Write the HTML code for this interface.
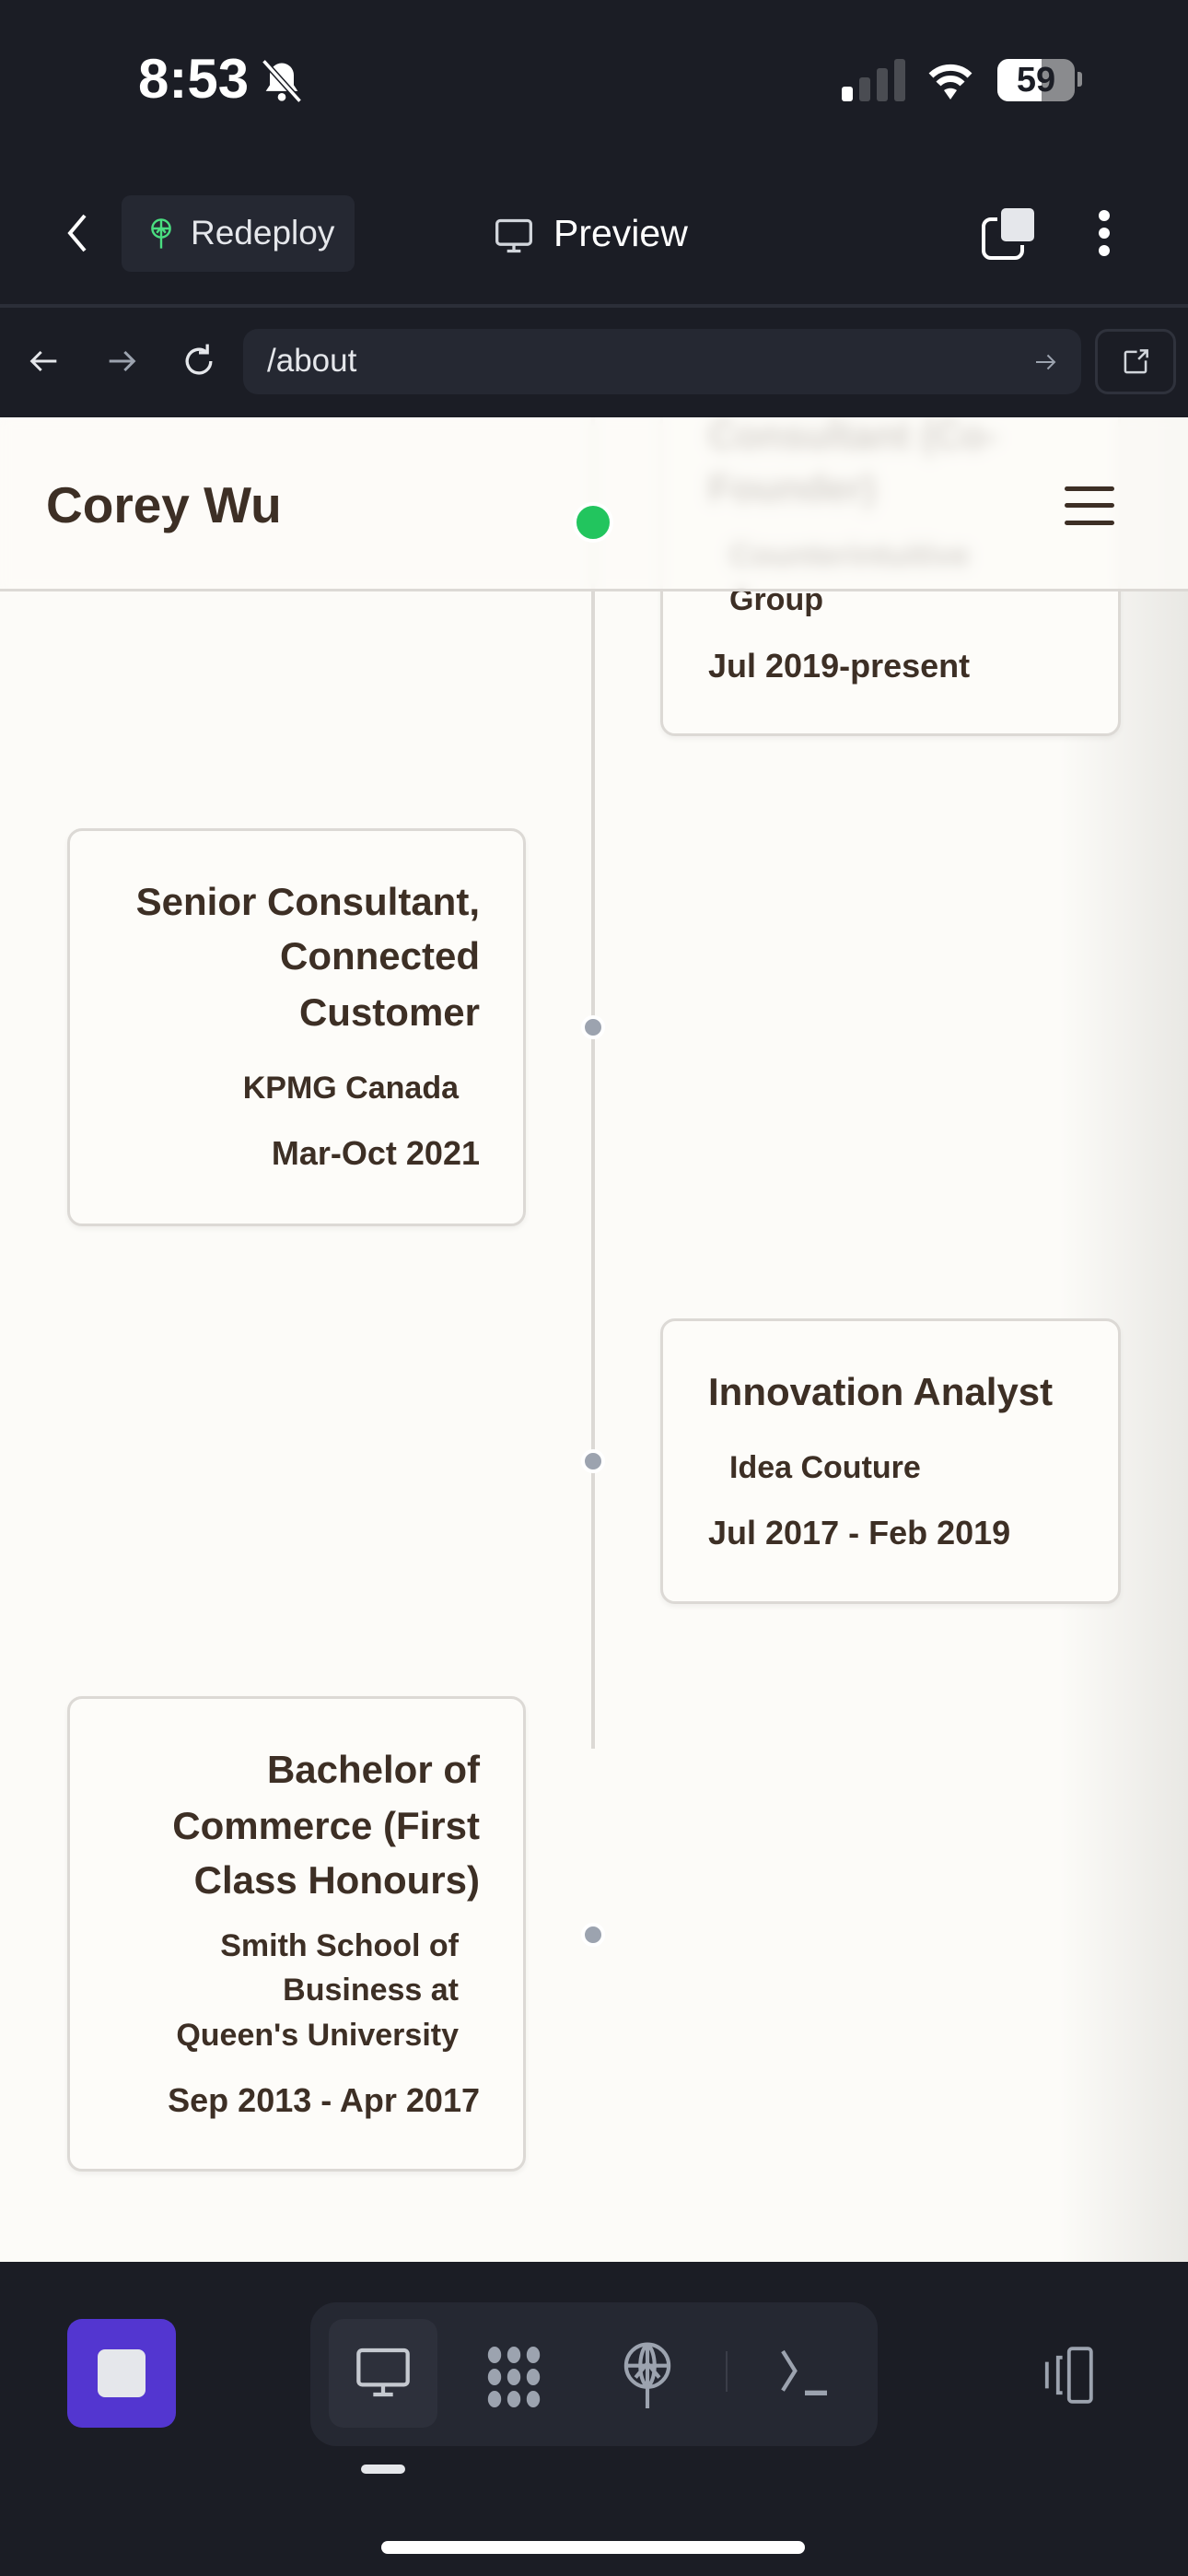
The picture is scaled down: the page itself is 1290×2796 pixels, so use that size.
<!DOCTYPE html>
<html><head><meta charset="utf-8"><style>
*{margin:0;padding:0;box-sizing:border-box}
body{width:1290px;height:2796px;background:#1b1d25;font-family:"Liberation Sans",sans-serif;position:relative;overflow:hidden}
.a{position:absolute}
.t{position:absolute;white-space:nowrap;color:#3d2f25;line-height:60px}
.card{position:absolute;background:#fdfcf9;border:3px solid #dcd9d5;border-radius:16px;box-shadow:0 3px 6px rgba(0,0,0,0.05)}
.dot{position:absolute;width:26px;height:26px;border-radius:50%;background:#9ca3af;border:4px solid #fff;left:631px}
.ti{font-size:42px;font-weight:bold}
.sub{font-size:34px;font-weight:bold}
.dt{font-size:36px;font-weight:bold}
</style></head><body>
<!-- status bar -->
<div class="a" style="left:150px;top:52px;color:#fff;font-size:60px;font-weight:bold;line-height:68px">8:53</div>
<svg class="a" style="left:280px;top:62px" width="52" height="52" viewBox="0 0 24 24"><path d="M12 3a6 6 0 0 0-6 6v5l-2 3h16l-2-3V9a6 6 0 0 0-6-6z" fill="#fff"/><circle cx="12" cy="20" r="2" fill="#fff"/><line x1="3" y1="2" x2="21" y2="22" stroke="#1b1d25" stroke-width="3"/><line x1="3" y1="2" x2="21" y2="22" stroke="#fff" stroke-width="1.6"/></svg>
<div class="a" style="left:914px;top:94px;width:12px;height:16px;background:#fff;border-radius:3px"></div>
<div class="a" style="left:933px;top:84px;width:12px;height:26px;background:#4a4c52;border-radius:3px"></div>
<div class="a" style="left:952px;top:74px;width:12px;height:36px;background:#4a4c52;border-radius:3px"></div>
<div class="a" style="left:971px;top:64px;width:12px;height:46px;background:#4a4c52;border-radius:3px"></div>
<svg class="a" style="left:1003px;top:62px" width="58" height="48" viewBox="0 0 58 48"><path d="M29 46 L36 36 A12 12 0 0 0 22 36Z" fill="#fff"/><path d="M8 20 A30 30 0 0 1 50 20" stroke="#fff" stroke-width="7" fill="none"/><path d="M16 29 A18 18 0 0 1 42 29" stroke="#fff" stroke-width="7" fill="none"/></svg>
<div class="a" style="left:1083px;top:64px;width:84px;height:46px;border-radius:12px;background:#8a8b8e;overflow:hidden"><div style="width:48px;height:46px;background:#fff"></div></div>
<div class="a" style="left:1083px;top:64px;width:84px;height:46px;text-align:center;font-size:38px;font-weight:bold;color:#1b1d25;line-height:46px">59</div>
<div class="a" style="left:1170px;top:78px;width:5px;height:16px;background:#8a8b8e;border-radius:0 3px 3px 0"></div>
<!-- nav -->
<svg class="a" style="left:70px;top:230px" width="28" height="46" viewBox="0 0 28 46"><path d="M22 4 L6 23 L22 42" stroke="#fff" stroke-width="4" fill="none"/></svg>
<div class="a" style="left:132px;top:212px;width:253px;height:83px;background:#252832;border-radius:10px"></div>
<svg class="a" style="left:160px;top:236px" width="30" height="36" viewBox="0 0 24 30"><circle cx="12" cy="10" r="8" stroke="#4ade80" stroke-width="2" fill="none"/><path d="M4 10h16M12 2v26M8 14l4-5 4 5" stroke="#4ade80" stroke-width="2" fill="none"/></svg>
<div class="a" style="left:207px;top:228px;color:#e5e7eb;font-size:37px;line-height:50px">Redeploy</div>
<svg class="a" style="left:536px;top:234px" width="44" height="44" viewBox="0 0 24 24"><rect x="2" y="3" width="20" height="14" rx="2" stroke="#d1d5db" stroke-width="1.8" fill="none"/><path d="M12 17v4M8 21h8" stroke="#d1d5db" stroke-width="1.8"/></svg>
<div class="a" style="left:601px;top:226px;color:#fff;font-size:41px;line-height:54px">Preview</div>
<div class="a" style="left:1066px;top:236px;width:46px;height:46px;border:4px solid #fff;border-radius:10px"></div>
<div class="a" style="left:1083px;top:222px;width:44px;height:44px;background:#e5e7eb;border-radius:9px;border:4px solid #1b1d25"></div>
<div class="a" style="left:1193px;top:228px;width:12px;height:12px;background:#fff;border-radius:50%"></div>
<div class="a" style="left:1193px;top:247px;width:12px;height:12px;background:#fff;border-radius:50%"></div>
<div class="a" style="left:1193px;top:266px;width:12px;height:12px;background:#fff;border-radius:50%"></div>
<div class="a" style="left:0;top:330px;width:1290px;height:4px;background:#2b2e38"></div>
<!-- url bar -->
<svg class="a" style="left:28px;top:372px" width="40" height="40" viewBox="0 0 24 24"><path d="M20 12H4M10 6l-6 6 6 6" stroke="#e5e7eb" stroke-width="1.8" fill="none"/></svg>
<svg class="a" style="left:112px;top:372px" width="40" height="40" viewBox="0 0 24 24"><path d="M4 12h16M14 6l6 6-6 6" stroke="#9ca3af" stroke-width="1.8" fill="none"/></svg>
<svg class="a" style="left:194px;top:370px" width="44" height="44" viewBox="0 0 24 24"><path d="M19 12a7 7 0 1 1-3-5.7" stroke="#e5e7eb" stroke-width="1.8" fill="none"/><path d="M17 2v5h-5" stroke="#e5e7eb" stroke-width="1.8" fill="none"/></svg>
<div class="a" style="left:264px;top:357px;width:910px;height:71px;background:#252832;border-radius:16px"></div>
<div class="a" style="left:290px;top:366px;color:#e5e7eb;font-size:35px;line-height:52px">/about</div>
<svg class="a" style="left:1120px;top:378px" width="30" height="30" viewBox="0 0 24 24"><path d="M4 12h16M14 6l6 6-6 6" stroke="#9ca3af" stroke-width="1.6" fill="none"/></svg>
<div class="a" style="left:1189px;top:357px;width:88px;height:71px;border:3px solid #2f323c;border-radius:14px"></div>
<svg class="a" style="left:1214px;top:374px" width="38" height="38" viewBox="0 0 24 24"><path d="M13 5H6a1 1 0 0 0-1 1v12a1 1 0 0 0 1 1h12a1 1 0 0 0 1-1v-7M14 10l6-6M15 4h5v5" stroke="#d1d5db" stroke-width="1.6" fill="none"/></svg>
<!-- content -->
<div class="a" style="left:0;top:453px;width:1290px;height:2002px;background:#fcfbf8;overflow:hidden">
 <div class="a" style="left:1150px;top:0;width:140px;height:2002px;background:linear-gradient(90deg,rgba(233,232,228,0),#e9e8e4)"></div>
 <div class="a" style="left:642px;top:0;width:4px;height:1445px;background:#dcd9d5"></div>
 <!-- card 1 right -->
 <div class="card" style="left:717px;top:-200px;width:500px;height:546px"></div>
 <div class="t ti" style="left:769px;top:-10px;filter:blur(5px)">Consultant (Co-</div>
 <div class="t ti" style="left:769px;top:47px;filter:blur(5px)">Founder)</div>
 <div class="t sub" style="left:792px;top:120px;filter:blur(5px)">Counterintuitive</div>
 <div class="t sub" style="left:792px;top:168px">Group</div>
 <div class="t dt" style="left:769px;top:240px">Jul 2019-present</div>
 <!-- card 2 left -->
 <div class="card" style="left:73px;top:446px;width:498px;height:432px"></div>
 <div class="t ti" style="right:769px;top:496px">Senior Consultant,</div>
 <div class="t ti" style="right:769px;top:555px">Connected</div>
 <div class="t ti" style="right:769px;top:616px">Customer</div>
 <div class="t sub" style="right:792px;top:698px">KPMG Canada</div>
 <div class="t dt" style="right:769px;top:769px">Mar-Oct 2021</div>
 <div class="dot" style="top:649px"></div>
 <!-- card 3 right -->
 <div class="card" style="left:717px;top:978px;width:500px;height:310px"></div>
 <div class="t ti" style="left:769px;top:1028px">Innovation Analyst</div>
 <div class="t sub" style="left:792px;top:1110px">Idea Couture</div>
 <div class="t dt" style="left:769px;top:1181px">Jul 2017 - Feb 2019</div>
 <div class="dot" style="top:1120px"></div>
 <!-- card 4 left -->
 <div class="card" style="left:73px;top:1388px;width:498px;height:516px"></div>
 <div class="t ti" style="right:769px;top:1438px">Bachelor of</div>
 <div class="t ti" style="right:769px;top:1499px">Commerce (First</div>
 <div class="t ti" style="right:769px;top:1558px">Class Honours)</div>
 <div class="t sub" style="right:792px;top:1635px;line-height:48px">Smith School of</div>
 <div class="t sub" style="right:792px;top:1683px;line-height:48px">Business at</div>
 <div class="t sub" style="right:792px;top:1732px;line-height:48px">Queen's University</div>
 <div class="t dt" style="right:769px;top:1797px">Sep 2013 - Apr 2017</div>
 <div class="dot" style="top:1634px"></div>
 <!-- header -->
 <div class="a" style="left:0;top:0;width:1290px;height:189px;background:rgba(252,251,248,0.8);backdrop-filter:blur(6px);border-bottom:3px solid #dcd9d5"></div>
 <div class="t" style="left:50px;top:65px;font-size:55px;font-weight:bold">Corey Wu</div>
 <div class="a" style="left:1156px;top:75px;width:54px;height:5px;background:#3d2f25;border-radius:3px"></div>
 <div class="a" style="left:1156px;top:93px;width:54px;height:5px;background:#3d2f25;border-radius:3px"></div>
 <div class="a" style="left:1156px;top:112px;width:54px;height:5px;background:#3d2f25;border-radius:3px"></div>
 <div class="a" style="left:622px;top:92px;width:44px;height:44px;border-radius:50%;background:#22c55e;border:4px solid #fff"></div>
</div>
<!-- bottom bar -->
<div class="a" style="left:73px;top:2517px;width:118px;height:118px;background:#5336d0;border-radius:16px"></div>
<div class="a" style="left:106px;top:2550px;width:52px;height:52px;background:#e5e7eb;border-radius:8px"></div>
<div class="a" style="left:337px;top:2499px;width:616px;height:156px;background:#252832;border-radius:28px"></div>
<div class="a" style="left:357px;top:2517px;width:118px;height:118px;background:#2d303b;border-radius:16px"></div>
<svg class="a" style="left:384px;top:2543px" width="64" height="64" viewBox="0 0 24 24"><rect x="2" y="3" width="20" height="14" rx="1.5" stroke="#c5c9d0" stroke-width="1.6" fill="none"/><path d="M12 17v4M8 21h8" stroke="#c5c9d0" stroke-width="1.6"/></svg>
<svg class="a" style="left:522px;top:2544px" width="72" height="72" viewBox="0 0 24 24" fill="#9ca3af"><ellipse cx="5" cy="4" rx="2.4" ry="3"/><ellipse cx="12" cy="4" rx="2.4" ry="3"/><ellipse cx="19" cy="4" rx="2.4" ry="3"/><ellipse cx="5" cy="12" rx="2.4" ry="3"/><ellipse cx="12" cy="12" rx="2.4" ry="3"/><ellipse cx="19" cy="12" rx="2.4" ry="3"/><ellipse cx="5" cy="20" rx="2.4" ry="3"/><ellipse cx="12" cy="20" rx="2.4" ry="3"/><ellipse cx="19" cy="20" rx="2.4" ry="3"/></svg>
<svg class="a" style="left:672px;top:2542px" width="62" height="72" viewBox="0 0 24 28"><circle cx="12" cy="10" r="9" stroke="#9ca3af" stroke-width="1.6" fill="none"/><path d="M3 10h18M12 1v27M7 15l5-6 5 6M12 1c-4 3-4 15 0 18M12 1c4 3 4 15 0 18" stroke="#9ca3af" stroke-width="1.6" fill="none"/></svg>
<div class="a" style="left:788px;top:2552px;width:2px;height:44px;background:#3a3d48"></div>
<svg class="a" style="left:842px;top:2546px" width="64" height="60" viewBox="0 0 24 22"><path d="M3 2l5 8-5 8" stroke="#9ca3af" stroke-width="1.6" fill="none"/><path d="M12 19h9" stroke="#9ca3af" stroke-width="2"/></svg>
<div class="a" style="left:392px;top:2675px;width:48px;height:10px;background:#e5e7eb;border-radius:5px"></div>
<svg class="a" style="left:1120px;top:2546px" width="72" height="64" viewBox="0 0 30 26"><rect x="17" y="1" width="10" height="24" rx="1.5" stroke="#9ca3af" stroke-width="1.6" fill="none"/><path d="M14 5h-2v16h2M7 7v12" stroke="#9ca3af" stroke-width="1.6" fill="none"/></svg>
<div class="a" style="left:414px;top:2758px;width:460px;height:14px;background:#fff;border-radius:7px"></div>
</body></html>
